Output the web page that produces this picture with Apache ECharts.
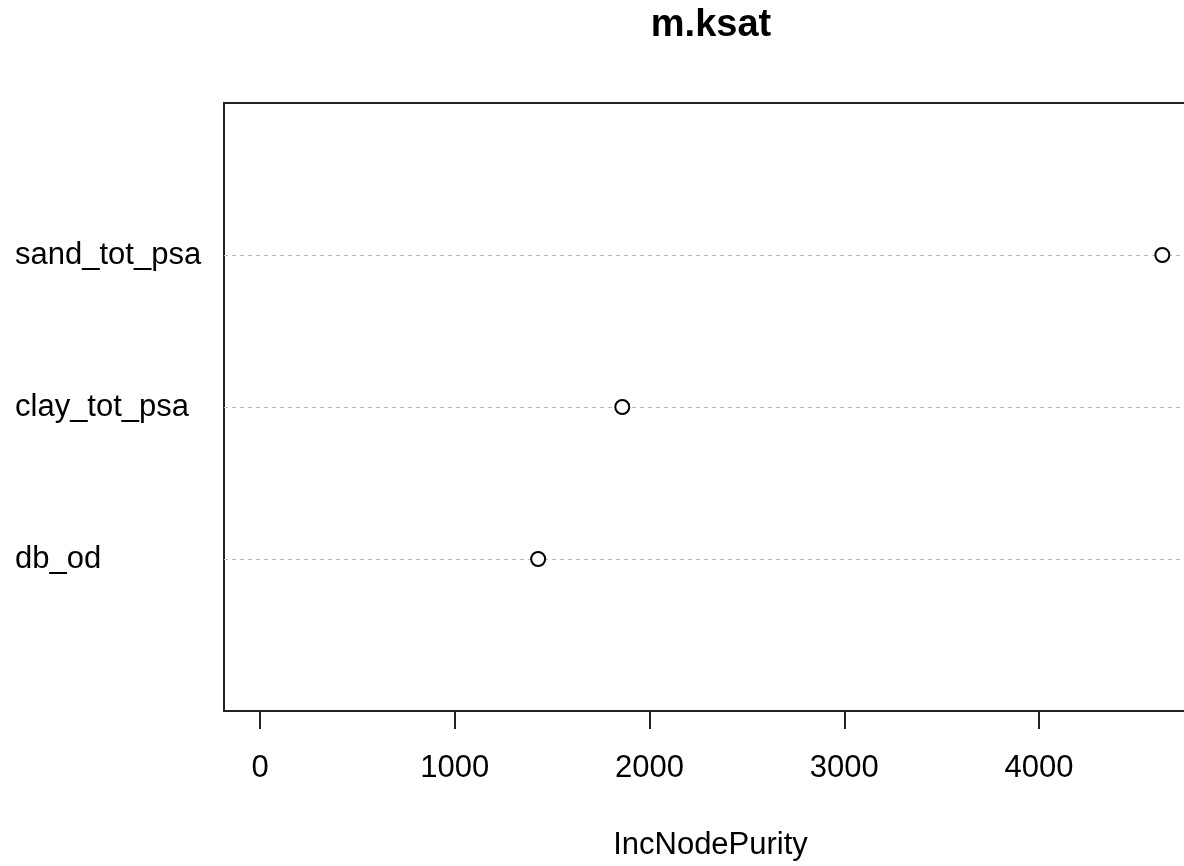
<!DOCTYPE html>
<html>
<head>
<meta charset="utf-8">
<title>m.ksat</title>
<script src="https://cdn.jsdelivr.net/npm/echarts@6/dist/echarts.min.js"></script>
<style>
  html, body { margin: 0; padding: 0; background: #fff; overflow: hidden; }
  /* plot box runs past the right edge of the window, as in the original */
  #main { width: 1210px; height: 866px; }
</style>
</head>
<body>
<div id="main"></div>
<script>
// variable importance, bottom to top (dotchart order)
var varNames = ['db_od', 'clay_tot_psa', 'sand_tot_psa'];
var incNodePurity = [1428, 1860, 4633];
var xTicks = [0, 1000, 2000, 3000, 4000];

var FONT = '"Liberation Sans", Arial, sans-serif';

var chart = echarts.init(document.getElementById('main'));

var points = incNodePurity.map(function (v, i) { return [v, i + 1]; });
var guides = varNames.map(function (n, i) { return { yAxis: i + 1 }; });

var option = {
    backgroundColor: '#fff',
    animation: false,
    graphic: [{
        type: 'text',
        x: 711,
        y: 7,
        style: {
            text: 'm.ksat',
            font: 'bold 38px ' + FONT,
            fill: '#000',
            align: 'center',
            verticalAlign: 'top'
        }
    }],
    grid: {
        left: 224,
        right: 13,
        top: 103,
        bottom: 154,
        show: true,
        borderColor: '#222',
        borderWidth: 2,
        backgroundColor: 'transparent'
    },
    xAxis: {
        type: 'value',
        min: -185,
        max: 4811,
        name: 'IncNodePurity',
        nameLocation: 'middle',
        nameGap: 119,
        nameTextStyle: { fontFamily: FONT, fontSize: 31, color: '#000' },
        axisLine: { show: false },
        axisTick: {
            show: true,
            length: 18,
            customValues: xTicks,
            lineStyle: { color: '#222', width: 2 }
        },
        axisLabel: {
            customValues: xTicks,
            margin: 42,
            fontFamily: FONT,
            fontSize: 31,
            color: '#000',
            formatter: function (v) { return String(v); }
        },
        splitLine: { show: false }
    },
    yAxis: {
        type: 'value',
        min: 0,
        max: 4,
        interval: 1,
        axisLine: { show: false },
        axisTick: { show: false },
        splitLine: { show: false },
        axisLabel: {
            align: 'left',
            margin: 209,
            padding: [10, 0, 0, 0],
            fontFamily: FONT,
            fontSize: 31,
            color: '#000',
            formatter: function (v) { return varNames[v - 1] || ''; }
        }
    },
    series: [{
        type: 'scatter',
        data: points,
        symbol: 'circle',
        symbolSize: 14,
        itemStyle: { color: '#fff', borderColor: '#000', borderWidth: 2, opacity: 1 },
        z: 5,
        markLine: {
            silent: true,
            symbol: ['none', 'none'],
            label: { show: false },
            lineStyle: { color: '#bdbdbd', width: 1, type: [4, 4] },
            data: guides,
            z: 1
        }
    }]
};

chart.setOption(option);
</script>
</body>
</html>
